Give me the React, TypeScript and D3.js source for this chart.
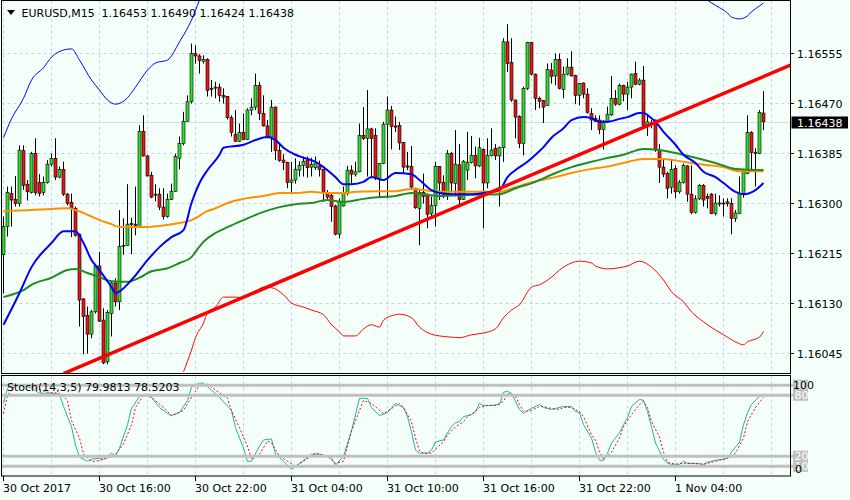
import { useEffect, useRef } from "react";
import * as d3 from "d3";

// EURUSD M15, one row per bar: open, high, low, close
const candles: [number, number, number, number][] = [
  [1.16212, 1.16277, 1.16146, 1.1626], [1.1626, 1.16328, 1.16243, 1.16318], [1.16316, 1.16328, 1.1626, 1.16305],
  [1.16306, 1.16346, 1.16294, 1.16299], [1.16299, 1.16398, 1.16294, 1.1639], [1.16389, 1.16398, 1.16322, 1.1633],
  [1.16332, 1.16339, 1.16304, 1.16319], [1.16318, 1.16387, 1.16316, 1.16384], [1.16384, 1.1641, 1.16313, 1.16318],
  [1.16335, 1.16349, 1.16311, 1.16316], [1.16318, 1.16345, 1.16313, 1.16335], [1.16335, 1.16373, 1.16333, 1.16366],
  [1.16366, 1.16384, 1.16362, 1.16376], [1.16376, 1.1641, 1.16339, 1.16344], [1.16344, 1.16362, 1.16342, 1.16357],
  [1.16357, 1.1637, 1.16312, 1.16315], [1.16315, 1.16317, 1.16296, 1.16299], [1.16301, 1.16316, 1.16242, 1.16291],
  [1.16291, 1.16294, 1.16243, 1.16245], [1.16247, 1.16248, 1.1609, 1.16135], [1.16137, 1.16138, 1.16043, 1.16107],
  [1.16109, 1.16124, 1.16044, 1.16077], [1.16077, 1.16118, 1.1607, 1.16115], [1.16115, 1.16194, 1.16112, 1.16193],
  [1.16193, 1.16217, 1.16098, 1.16099], [1.16101, 1.16121, 1.16026, 1.16028], [1.1603, 1.16118, 1.16026, 1.16114],
  [1.16112, 1.16166, 1.16073, 1.16164], [1.16164, 1.16172, 1.16124, 1.16132], [1.16132, 1.16288, 1.16118, 1.16226],
  [1.16227, 1.16274, 1.16212, 1.16228], [1.16228, 1.16332, 1.16227, 1.16264], [1.16265, 1.16275, 1.16213, 1.16264],
  [1.16264, 1.16328, 1.16245, 1.16262], [1.1626, 1.16432, 1.16258, 1.16422], [1.16422, 1.16449, 1.16379, 1.1638],
  [1.1638, 1.16382, 1.16345, 1.16346], [1.16347, 1.16353, 1.16308, 1.1631], [1.16315, 1.16332, 1.16303, 1.16314],
  [1.16315, 1.16325, 1.16288, 1.16293], [1.16293, 1.16325, 1.16272, 1.16277], [1.16277, 1.16316, 1.16275, 1.16306],
  [1.16306, 1.16333, 1.16305, 1.1632], [1.1632, 1.16384, 1.16319, 1.16379], [1.16376, 1.16413, 1.16357, 1.16401],
  [1.16401, 1.16455, 1.16398, 1.16439], [1.16439, 1.16483, 1.16438, 1.16472], [1.16472, 1.16571, 1.16469, 1.16554],
  [1.16554, 1.16568, 1.16537, 1.1655], [1.1655, 1.16553, 1.1652, 1.16542], [1.16541, 1.16551, 1.16537, 1.16544],
  [1.16544, 1.16546, 1.16481, 1.16491], [1.16495, 1.16509, 1.16481, 1.16494], [1.16496, 1.16506, 1.16478, 1.16497],
  [1.16497, 1.16503, 1.16472, 1.16483], [1.16483, 1.16495, 1.16469, 1.1648], [1.16481, 1.16482, 1.16442, 1.16445],
  [1.16445, 1.16449, 1.16413, 1.1642], [1.16417, 1.16458, 1.16404, 1.16405], [1.16405, 1.16435, 1.16404, 1.1642],
  [1.1642, 1.16452, 1.16407, 1.16408], [1.16408, 1.16461, 1.16407, 1.16458], [1.16458, 1.16478, 1.16449, 1.16463],
  [1.16463, 1.1652, 1.16458, 1.165], [1.165, 1.16506, 1.16441, 1.16452], [1.16452, 1.16483, 1.1643, 1.16431],
  [1.16431, 1.16441, 1.1641, 1.16412], [1.16412, 1.16475, 1.16387, 1.16463], [1.16463, 1.16464, 1.16373, 1.16389],
  [1.16389, 1.16401, 1.1637, 1.16372], [1.16373, 1.16383, 1.16356, 1.16369], [1.16369, 1.1637, 1.16325, 1.16335],
  [1.16335, 1.1637, 1.16319, 1.16339], [1.16339, 1.16376, 1.16333, 1.16357], [1.16356, 1.16371, 1.16345, 1.16364],
  [1.16364, 1.16379, 1.16345, 1.16371], [1.16373, 1.16379, 1.16343, 1.1636], [1.16361, 1.16377, 1.16345, 1.16366],
  [1.1636, 1.16379, 1.16356, 1.16368], [1.16363, 1.16372, 1.16345, 1.16357], [1.16357, 1.16358, 1.16302, 1.16318],
  [1.16318, 1.16322, 1.16305, 1.1631], [1.16313, 1.16316, 1.16268, 1.16294], [1.16295, 1.16297, 1.16245, 1.16247],
  [1.16247, 1.16308, 1.1624, 1.16303], [1.16295, 1.16328, 1.16294, 1.16318], [1.16316, 1.16363, 1.16313, 1.16356],
  [1.16356, 1.16364, 1.16333, 1.16349], [1.16349, 1.1637, 1.16345, 1.16353], [1.16353, 1.16435, 1.16352, 1.16415],
  [1.16415, 1.16463, 1.16407, 1.1641], [1.1641, 1.16492, 1.16345, 1.16426], [1.16426, 1.16428, 1.16342, 1.1641],
  [1.16415, 1.16427, 1.16339, 1.16342], [1.16342, 1.16368, 1.16308, 1.16367], [1.16367, 1.16438, 1.16366, 1.16434],
  [1.16434, 1.16481, 1.16308, 1.16458], [1.16458, 1.16465, 1.16391, 1.1643], [1.16431, 1.16447, 1.16421, 1.16429],
  [1.16432, 1.16438, 1.1639, 1.16402], [1.16403, 1.16404, 1.1635, 1.16361], [1.16363, 1.16387, 1.16356, 1.16361],
  [1.16362, 1.16397, 1.16325, 1.16327], [1.16325, 1.16326, 1.1629, 1.16292], [1.16291, 1.16322, 1.16228, 1.16318],
  [1.16318, 1.1635, 1.16299, 1.16311], [1.16315, 1.16316, 1.16257, 1.16281], [1.16282, 1.16311, 1.16277, 1.16296],
  [1.16296, 1.1637, 1.1626, 1.16362], [1.16362, 1.16363, 1.16305, 1.16334], [1.16335, 1.16347, 1.16308, 1.16312],
  [1.16312, 1.1639, 1.16305, 1.16384], [1.16384, 1.16387, 1.16319, 1.16334], [1.16333, 1.16424, 1.16311, 1.16366],
  [1.16365, 1.164, 1.16296, 1.16306], [1.16306, 1.16373, 1.16305, 1.16371], [1.16356, 1.16421, 1.16339, 1.16369],
  [1.16369, 1.16414, 1.16367, 1.16381], [1.16381, 1.16396, 1.16342, 1.16363], [1.16363, 1.16411, 1.16361, 1.16394],
  [1.16391, 1.16393, 1.16257, 1.16334], [1.16334, 1.1641, 1.16325, 1.16381], [1.16381, 1.16427, 1.16379, 1.1639],
  [1.16393, 1.164, 1.16373, 1.1638], [1.1638, 1.16396, 1.16294, 1.16394], [1.16394, 1.1658, 1.1637, 1.16574],
  [1.16574, 1.16604, 1.16523, 1.16537], [1.16539, 1.1658, 1.16472, 1.16475], [1.16475, 1.16476, 1.1641, 1.16446],
  [1.16447, 1.16449, 1.16393, 1.16401], [1.16401, 1.16498, 1.16381, 1.16495], [1.16495, 1.16574, 1.16492, 1.16573],
  [1.16573, 1.16574, 1.16517, 1.16519], [1.16519, 1.1652, 1.16458, 1.16478], [1.16478, 1.16481, 1.16461, 1.16473],
  [1.16474, 1.16475, 1.16436, 1.16463], [1.16466, 1.16537, 1.16465, 1.16527], [1.16526, 1.16538, 1.16503, 1.16515],
  [1.16516, 1.16554, 1.165, 1.16544], [1.16544, 1.16554, 1.16493, 1.16495], [1.16493, 1.16532, 1.16478, 1.16519],
  [1.16519, 1.16546, 1.16517, 1.16531], [1.16531, 1.16558, 1.16515, 1.16516], [1.16517, 1.16518, 1.16468, 1.16483],
  [1.16483, 1.16504, 1.16466, 1.16503], [1.16504, 1.16505, 1.16478, 1.16485], [1.16485, 1.16495, 1.16452, 1.16454],
  [1.16452, 1.16461, 1.16424, 1.16441], [1.16444, 1.16449, 1.16438, 1.16439], [1.16441, 1.16449, 1.16417, 1.16425],
  [1.16425, 1.16441, 1.16391, 1.16438], [1.16438, 1.16464, 1.16436, 1.16451], [1.1645, 1.16516, 1.16448, 1.16478],
  [1.16478, 1.16492, 1.16465, 1.16468], [1.16468, 1.16503, 1.16466, 1.165], [1.165, 1.16501, 1.16473, 1.16485],
  [1.16485, 1.16506, 1.16458, 1.16497], [1.16497, 1.1652, 1.16478, 1.16519], [1.1652, 1.1654, 1.165, 1.16502],
  [1.16502, 1.16512, 1.165, 1.16509], [1.16509, 1.16533, 1.16431, 1.16432], [1.16432, 1.16449, 1.16414, 1.16438],
  [1.16435, 1.16441, 1.16427, 1.16436], [1.16441, 1.16442, 1.16387, 1.1639], [1.1639, 1.164, 1.16334, 1.16361],
  [1.16361, 1.16373, 1.16344, 1.16349], [1.1635, 1.16353, 1.16308, 1.16325], [1.16327, 1.16373, 1.16316, 1.16357],
  [1.16359, 1.16364, 1.16308, 1.16319], [1.16319, 1.16339, 1.16316, 1.16335], [1.16335, 1.16367, 1.16333, 1.16364],
  [1.16363, 1.16364, 1.16302, 1.16315], [1.16315, 1.16364, 1.16281, 1.16284], [1.16284, 1.16313, 1.16282, 1.16307],
  [1.16307, 1.16332, 1.16305, 1.1633], [1.1633, 1.16332, 1.16294, 1.16305], [1.16311, 1.16316, 1.16291, 1.16308],
  [1.16315, 1.16317, 1.16281, 1.16282], [1.16282, 1.16316, 1.16279, 1.163], [1.16299, 1.16313, 1.16294, 1.163],
  [1.163, 1.16308, 1.16277, 1.16299], [1.16302, 1.16308, 1.16294, 1.16299], [1.16299, 1.16308, 1.16247, 1.16274],
  [1.16274, 1.16288, 1.16268, 1.16283], [1.16282, 1.16345, 1.16281, 1.16316], [1.16316, 1.16356, 1.16309, 1.16353],
  [1.1635, 1.16449, 1.16349, 1.1642], [1.1642, 1.16422, 1.16353, 1.16386], [1.16386, 1.16393, 1.16328, 1.16384],
  [1.16384, 1.16458, 1.16383, 1.16454], [1.16453, 1.1649, 1.16424, 1.16438],
];

// indicator readings: [bar, value]
const maBlue: [number, number][] = [
  [0, 1.16093], [4, 1.16147], [7, 1.16191], [12, 1.16232], [15, 1.16252], [18, 1.16252], [20, 1.16232], [22, 1.16203],
  [24, 1.16186], [27, 1.16157], [28, 1.16147], [32, 1.16169], [36, 1.16203], [39, 1.16225], [42, 1.16242], [45, 1.16254],
  [47, 1.163], [49, 1.16334], [51, 1.16356], [54, 1.16382], [55, 1.16394], [60, 1.16399], [63, 1.16407], [66, 1.16412],
  [68, 1.16407], [70, 1.16394], [73, 1.16382], [75, 1.16377], [78, 1.1637], [80, 1.16361], [83, 1.16344], [85, 1.16332],
  [87, 1.16332], [90, 1.16336], [92, 1.16344], [95, 1.16339], [98, 1.16351], [102, 1.16349], [104, 1.16339], [107, 1.16322],
  [109, 1.16317], [113, 1.16315], [117, 1.16315], [120, 1.16317], [124, 1.16322], [126, 1.16344], [128, 1.16356],
  [131, 1.1637], [133, 1.16382], [135, 1.16395], [137, 1.16411], [140, 1.16427], [142, 1.16441], [145, 1.16446],
  [147, 1.16444], [149, 1.16438], [151, 1.16438], [154, 1.16443], [156, 1.16446], [159, 1.16453], [160, 1.16453],
  [162, 1.16444], [163, 1.16438], [165, 1.16421], [168, 1.16399], [170, 1.16382], [173, 1.16368], [175, 1.16353],
  [178, 1.16344], [180, 1.16334], [183, 1.16319], [185, 1.16315], [188, 1.16322], [190, 1.16334],
];

const maOrange: [number, number][] = [
  [0, 1.16286], [7, 1.16288], [12, 1.1629], [16, 1.16291], [18, 1.16288], [21, 1.1628], [24, 1.16271], [27, 1.16264],
  [29, 1.16259], [34, 1.16259], [39, 1.16261], [44, 1.16266], [47, 1.16271], [49, 1.16278], [50, 1.16283], [53, 1.16291],
  [56, 1.163], [60, 1.16307], [65, 1.16312], [69, 1.16317], [73, 1.16317], [77, 1.16319], [81, 1.16317], [85, 1.16317],
  [88, 1.16319], [93, 1.1632], [98, 1.1632], [102, 1.16324], [109, 1.16319], [117, 1.16319], [124, 1.16319],
  [128, 1.16327], [133, 1.16337], [138, 1.16344], [142, 1.16351], [147, 1.16358], [150, 1.16361], [155, 1.16368],
  [160, 1.16375], [165, 1.16375], [170, 1.1637], [175, 1.16365], [180, 1.16361], [184, 1.16354], [190, 1.16354],
];

const maGreen: [number, number][] = [
  [0, 1.1614], [2, 1.16144], [5, 1.16152], [7, 1.16161], [12, 1.16173], [16, 1.16186], [18, 1.16188], [21, 1.16181],
  [24, 1.16174], [27, 1.16167], [31, 1.16166], [34, 1.16173], [37, 1.16184], [41, 1.16189], [44, 1.16198], [47, 1.16208],
  [48, 1.16217], [50, 1.16234], [53, 1.16249], [56, 1.16259], [60, 1.16271], [65, 1.16285], [69, 1.16293], [73, 1.16298],
  [77, 1.163], [81, 1.16305], [85, 1.16302], [90, 1.16307], [94, 1.1631], [98, 1.16312], [102, 1.16317], [109, 1.16312],
  [117, 1.16314], [124, 1.16315], [128, 1.16325], [133, 1.16336], [138, 1.16351], [142, 1.16361], [147, 1.1637],
  [150, 1.16375], [155, 1.16382], [160, 1.16392], [164, 1.1639], [168, 1.16385], [173, 1.16377], [178, 1.16368],
  [183, 1.16358], [190, 1.16356],
];

const bandUpperA: [number, number][] = [
  [0, 1.16411], [2, 1.16443], [5, 1.16478], [7, 1.16509], [10, 1.1653], [12, 1.16548], [15, 1.1656], [17, 1.16562],
  [19, 1.16543], [22, 1.16509], [24, 1.16492], [26, 1.16475], [28, 1.16468], [31, 1.16479], [33, 1.16497], [36, 1.16526],
  [38, 1.16538], [41, 1.16543], [44, 1.16574], [47, 1.16611], [49, 1.16645], [50, 1.16662],
];

const bandUpperB: [number, number][] = [
  [175, 1.1665], [177, 1.1664], [179, 1.16632], [181, 1.16623], [182, 1.16616], [184, 1.16613], [186, 1.16618],
  [187, 1.16625], [189, 1.16635], [190, 1.1664],
];

const bandLower: [number, number][] = [
  [45, 1.16013], [47, 1.1605], [48, 1.16071], [50, 1.16096], [51, 1.16113], [53, 1.16123], [55, 1.1614], [58, 1.1614],
  [60, 1.16139], [63, 1.16149], [65, 1.16157], [67, 1.16156], [70, 1.16144], [72, 1.1613], [75, 1.16123], [77, 1.16118],
  [80, 1.1611], [82, 1.16093], [84, 1.16081], [85, 1.16074], [88, 1.16074], [90, 1.16086], [92, 1.16093], [94, 1.16089],
  [95, 1.16101], [98, 1.1611], [99, 1.16111], [102, 1.16105], [104, 1.16089], [107, 1.16077], [109, 1.16074],
  [112, 1.16072], [114, 1.16071], [117, 1.16076], [120, 1.16079], [123, 1.16086], [125, 1.16105], [127, 1.16118],
  [129, 1.16127], [132, 1.16157], [134, 1.16161], [137, 1.16174], [139, 1.16186], [142, 1.16198], [144, 1.16201],
  [147, 1.16198], [148, 1.16193], [151, 1.16188], [154, 1.1619], [156, 1.16193], [159, 1.16201], [162, 1.16191],
  [165, 1.16169], [167, 1.16149], [170, 1.16132], [172, 1.16115], [175, 1.16098], [178, 1.16084], [180, 1.16076],
  [183, 1.16064], [185, 1.16059], [186, 1.16064], [189, 1.16072], [190, 1.16082],
];

// trend line anchors [bar, price], drawn as a ray to the right
const trendLine: [number, number][] = [[15, 1.1601], [190, 1.16515]];

const stochK: [number, number][] = [
  [0, 72], [1, 87], [2, 90], [5, 90], [7, 87], [9, 82], [12, 82], [14, 81], [15, 69], [17, 49], [18, 31], [19, 19],
  [21, 15], [22, 17], [24, 18], [25, 17], [27, 23], [28, 20], [29, 28], [31, 51], [32, 67], [34, 79], [36, 81], [37, 78],
  [39, 68], [41, 62], [42, 60], [44, 63], [46, 75], [47, 88], [49, 92], [50, 92], [52, 85], [54, 78], [57, 65], [58, 48],
  [60, 28], [61, 15], [62, 15], [64, 30], [65, 36], [67, 37], [68, 22], [70, 15], [72, 7], [74, 13], [77, 22], [79, 22],
  [82, 18], [83, 11], [85, 20], [87, 45], [89, 77], [91, 77], [92, 68], [94, 60], [96, 63], [98, 72], [100, 68],
  [101, 59], [102, 44], [103, 26], [104, 23], [106, 23], [107, 26], [108, 34], [110, 36], [111, 43], [112, 49],
  [113, 53], [114, 54], [115, 59], [117, 61], [118, 64], [119, 72], [120, 70], [122, 70], [124, 71], [125, 83],
  [126, 84], [127, 82], [128, 74], [129, 66], [130, 62], [131, 65], [132, 67], [134, 71], [135, 68], [137, 66],
  [138, 67], [140, 69], [142, 69], [143, 64], [144, 63], [145, 51], [147, 38], [148, 24], [149, 16], [150, 16],
  [151, 23], [152, 33], [154, 43], [155, 51], [156, 58], [157, 69], [159, 76], [160, 75], [161, 64], [162, 49],
  [163, 33], [165, 17], [166, 13], [167, 12], [169, 12], [170, 15], [171, 13], [173, 13], [175, 12], [176, 14],
  [178, 16], [180, 17], [181, 18], [182, 24], [184, 34], [185, 51], [186, 63], [187, 71], [189, 79], [190, 80],
];

const stochD: [number, number][] = [
  [0, 62], [1, 80], [3, 90], [6, 90], [8, 87], [11, 83], [14, 82], [16, 75], [17, 55], [19, 38], [20, 22], [22, 15],
  [23, 15], [26, 18], [28, 22], [30, 32], [32, 51], [33, 68], [35, 80], [37, 78], [40, 68], [42, 60], [45, 65], [47, 78],
  [49, 90], [51, 91], [53, 85], [56, 77], [57, 65], [59, 48], [61, 30], [62, 17], [64, 22], [66, 35], [67, 33], [69, 20],
  [71, 15], [73, 10], [75, 15], [78, 23], [81, 20], [83, 13], [85, 15], [87, 45], [90, 75], [92, 72], [95, 62], [97, 67],
  [99, 72], [100, 68], [102, 54], [103, 38], [104, 25], [105, 23], [107, 23], [108, 27], [110, 34], [111, 41],
  [113, 49], [115, 54], [116, 59], [118, 64], [119, 68], [121, 70], [123, 70], [125, 74], [126, 82], [128, 79],
  [129, 71], [130, 64], [132, 65], [134, 69], [135, 69], [137, 67], [139, 66], [140, 68], [142, 68], [144, 64],
  [145, 59], [147, 41], [148, 36], [149, 24], [150, 17], [152, 24], [154, 38], [155, 49], [157, 61], [159, 71],
  [160, 74], [161, 68], [162, 54], [164, 39], [165, 24], [166, 14], [168, 12], [170, 13], [172, 13], [175, 12],
  [177, 14], [179, 16], [181, 18], [183, 23], [185, 38], [186, 54], [188, 68], [190, 78],
];

const priceTicks = [1.16555, 1.1647, 1.16385, 1.163, 1.16215, 1.1613, 1.16045];
const timeLabels = [
  "30 Oct 2017", "30 Oct 16:00", "30 Oct 22:00", "31 Oct 04:00",
  "31 Oct 10:00", "31 Oct 16:00", "31 Oct 22:00", "1 Nov 04:00",
];
const timeLabelBars = [0, 24, 48, 72, 96, 120, 144, 168];
const stochLevels = [90, 80, 20, 10];
const headerSymbol = "EURUSD,M15";
const headerPrices = "1.16453 1.16490 1.16424 1.16438";
const stochTitle = "Stoch(14,3,5) 79.9813 78.5203";

const FONT = "'DejaVu Sans', Verdana, sans-serif";

export default function App() {
  const svgRef = useRef<SVGSVGElement>(null);

  useEffect(() => {
    if (!svgRef.current) return;
    const svg = d3.select(svgRef.current);
    svg.selectAll("*").remove();

    const W = 850;
    const H = 500;
    const left = 1.5;
    const right = 790.5;
    const mainTop = 0.5;
    const mainBottom = 373.5;
    const subTop = 375.5;
    const subBottom = 476;

    const x = d3.scaleLinear().domain([0, 190]).range([3.5, 763.5]);
    const y = d3.scaleLinear().domain([1.16045, 1.16555]).range([353, 53]);
    const s = d3.scaleLinear().domain([0, 100]).range([476.5, 375]);

    svg.append("rect").attr("width", W).attr("height", H).attr("fill", "#f5fffa");

    const defs = svg.append("defs");
    defs.append("clipPath").attr("id", "clipMain")
      .append("rect").attr("x", left).attr("y", mainTop).attr("width", right - left).attr("height", mainBottom - mainTop);
    defs.append("clipPath").attr("id", "clipSub")
      .append("rect").attr("x", left).attr("y", subTop).attr("width", right - left).attr("height", subBottom - subTop);

    // grid
    const gridColor = "#c6d0f2";
    const gridBars = d3.range(0, 193, 12);
    const grid = svg.append("g").attr("stroke", gridColor).attr("stroke-dasharray", "3,3").attr("fill", "none");
    priceTicks.forEach((p) => {
      const yy = Math.round(y(p)) + 0.5;
      grid.append("line").attr("x1", left).attr("x2", right).attr("y1", yy).attr("y2", yy);
    });
    gridBars.forEach((b) => {
      const xx = x(b);
      if (xx > right) return;
      grid.append("line").attr("x1", xx).attr("x2", xx).attr("y1", mainTop).attr("y2", mainBottom);
      grid.append("line").attr("x1", xx).attr("x2", xx).attr("y1", subTop).attr("y2", subBottom);
    });

    const main = svg.append("g").attr("clip-path", "url(#clipMain)");

    // bid line
    const last = candles[candles.length - 1];
    const bidY = Math.round(y(last[3])) + 0.5;
    main.append("line").attr("x1", left).attr("x2", right).attr("y1", bidY).attr("y2", bidY)
      .attr("stroke", "#d3dbf7").attr("stroke-width", 1);

    // candles
    const cg = main.append("g");
    candles.forEach(([o, h, l, c], i) => {
      const cx = x(i);
      cg.append("line").attr("x1", cx).attr("x2", cx).attr("y1", y(h)).attr("y2", y(l))
        .attr("stroke", "#000").attr("stroke-width", 1);
      const top = y(Math.max(o, c));
      const bh = Math.max(1, y(Math.min(o, c)) - top);
      cg.append("rect").attr("x", cx - 1.5).attr("y", top).attr("width", 3).attr("height", bh)
        .attr("fill", c >= o ? "#2ee02e" : "#ea1414")
        .attr("stroke", "#000").attr("stroke-width", 0.6);
    });

    const smooth = d3.line<[number, number]>().x((d) => x(d[0])).y((d) => y(d[1])).curve(d3.curveMonotoneX);

    main.append("path").attr("d", smooth(bandUpperA)).attr("fill", "none").attr("stroke", "#0000ff").attr("stroke-width", 1);
    main.append("path").attr("d", smooth(bandUpperB)).attr("fill", "none").attr("stroke", "#0000ff").attr("stroke-width", 1);
    main.append("path").attr("d", smooth(bandLower)).attr("fill", "none").attr("stroke", "#ff0000").attr("stroke-width", 1);
    main.append("path").attr("d", smooth(maOrange)).attr("fill", "none").attr("stroke", "#ff9000").attr("stroke-width", 2);
    main.append("path").attr("d", smooth(maGreen)).attr("fill", "none").attr("stroke", "#228b22").attr("stroke-width", 2);
    main.append("path").attr("d", smooth(maBlue)).attr("fill", "none").attr("stroke", "#0000ff").attr("stroke-width", 2);

    // trend line ray
    const [[b1, p1], [b2, p2]] = trendLine;
    const bEnd = x.invert(right);
    const pEnd = p1 + ((p2 - p1) * (bEnd - b1)) / (b2 - b1);
    main.append("line").attr("x1", x(b1)).attr("y1", y(p1)).attr("x2", x(bEnd)).attr("y2", y(pEnd))
      .attr("stroke", "#ff0000").attr("stroke-width", 3.5);

    // stochastic panel
    const sub = svg.append("g").attr("clip-path", "url(#clipSub)");
    stochLevels.forEach((lv) => {
      svg.append("line").attr("x1", left).attr("x2", 793).attr("y1", s(lv)).attr("y2", s(lv))
        .attr("stroke", "#c0c0c0").attr("stroke-width", 3);
    });
    const sLine = d3.line<[number, number]>().x((d) => x(d[0])).y((d) => s(d[1]));
    sub.append("path").attr("d", sLine(stochK)).attr("fill", "none").attr("stroke", "#20b2aa").attr("stroke-width", 1);
    sub.append("path").attr("d", sLine(stochD)).attr("fill", "none").attr("stroke", "#ff0000")
      .attr("stroke-width", 1).attr("stroke-dasharray", "2,2");

    // frames
    svg.append("rect").attr("x", left).attr("y", mainTop).attr("width", right - left).attr("height", mainBottom - mainTop)
      .attr("fill", "none").attr("stroke", "#000");
    svg.append("rect").attr("x", left).attr("y", subTop).attr("width", right - left).attr("height", subBottom - subTop)
      .attr("fill", "none").attr("stroke", "#000");

    const txt = (tx: number, ty: number, t: string, color = "#000") =>
      svg.append("text").attr("x", tx).attr("y", ty).attr("fill", color)
        .attr("font-family", FONT).attr("font-size", 11).style("white-space", "pre").text(t);

    // price axis
    priceTicks.forEach((p) => {
      const yy = Math.round(y(p)) + 0.5;
      svg.append("line").attr("x1", right).attr("x2", 794).attr("y1", yy).attr("y2", yy).attr("stroke", "#000");
      txt(797, yy + 4, d3.format(".5f")(p));
    });
    svg.append("rect").attr("x", 791.5).attr("y", bidY - 6).attr("width", 56.5).attr("height", 12).attr("fill", "#000");
    txt(797, bidY + 4, d3.format(".5f")(last[3]), "#fff");

    // stoch scale labels
    stochLevels.forEach((lv) => {
      svg.append("rect").attr("x", 793).attr("y", s(lv) - 5.5).attr("width", 15).attr("height", 11).attr("fill", "#c0c0c0");
      txt(794.5, s(lv) + 4, String(lv), "#fff");
    });
    txt(793, 388.5, "100");
    txt(795, 472.5, "0");

    // time axis
    timeLabelBars.forEach((b, i) => {
      const xx = x(b);
      svg.append("line").attr("x1", xx).attr("x2", xx).attr("y1", subBottom).attr("y2", 481).attr("stroke", "#000");
      txt(xx - 0.5, 492, timeLabels[i]);
    });

    // headers
    svg.append("path").attr("d", "M7,10 L15,10 L11,15 Z").attr("fill", "#000");
    txt(21.5, 17, headerSymbol);
    txt(101.5, 17, headerPrices);
    txt(7, 390.5, stochTitle);
  }, []);

  return (
    <svg
      ref={svgRef}
      width={850}
      height={500}
      style={{ position: "absolute", left: 0, top: 0, display: "block" }}
    />
  );
}
